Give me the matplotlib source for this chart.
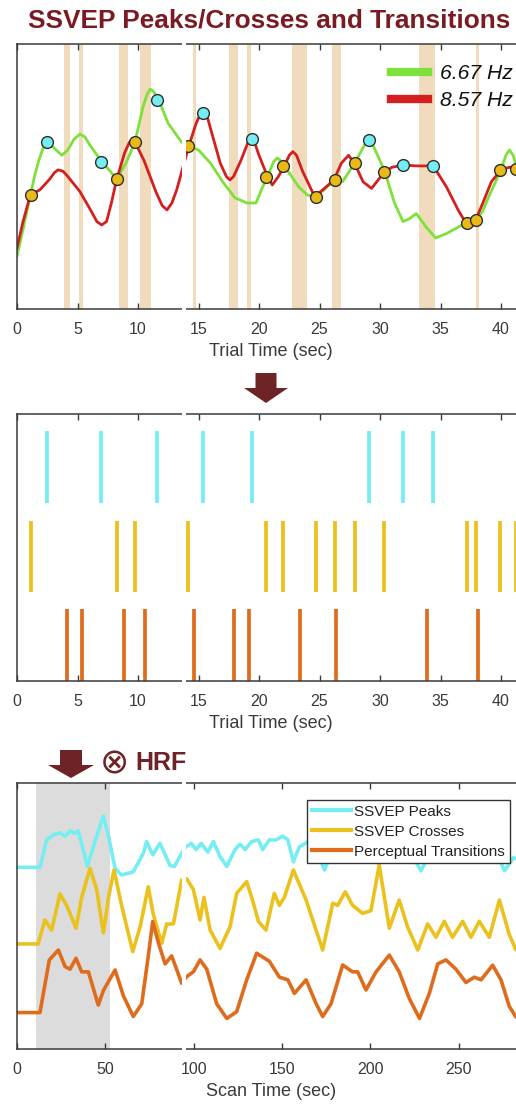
import matplotlib
matplotlib.use("Agg")
import matplotlib.pyplot as plt
from matplotlib.patches import Polygon, Rectangle
from matplotlib.lines import Line2D

plt.rcParams['font.family'] = ['Liberation Sans', 'DejaVu Sans']

# ---------------- data ----------------
# Top panel: SSVEP power traces (trial time, arbitrary units)
green_t = [0, 0.5, 1.1, 1.5, 1.8, 2.1, 2.4, 3.0, 3.7, 4.2, 4.7, 5.2, 5.6, 6.0, 7.0, 7.7, 8.24,
           9.0, 9.75, 10.4, 10.75, 11.0, 11.3, 11.7, 12.5, 13.6, 14.2, 15.0, 16.0, 17.0,
           18.0, 19.0, 19.75, 20.2, 20.7, 21.2, 21.5, 21.8, 22.1, 22.7, 23.3, 24.0, 24.6,
           25.4, 26.2, 26.9, 27.9, 28.5, 28.85, 29.1, 29.5, 29.8, 30.4, 31.2, 31.9, 32.4,
           33.0, 33.8, 34.6, 35.5, 36.3, 37.1, 37.9, 38.5, 39.0, 40.0, 40.4, 40.7, 41.0,
           41.2, 42.0]
green_v = [0.20, 0.30, 0.43, 0.51, 0.56, 0.60, 0.63, 0.61, 0.58, 0.60, 0.64, 0.66, 0.65,
           0.62, 0.556, 0.52, 0.49, 0.55, 0.63, 0.76, 0.81, 0.83, 0.82, 0.79, 0.70, 0.63,
           0.615, 0.60, 0.55, 0.48, 0.42, 0.40, 0.40, 0.45, 0.50, 0.555, 0.57, 0.56, 0.54,
           0.50, 0.46, 0.43, 0.424, 0.45, 0.487, 0.48, 0.55, 0.60, 0.63, 0.638, 0.61, 0.58,
           0.518, 0.40, 0.33, 0.34, 0.36, 0.31, 0.268, 0.285, 0.305, 0.325, 0.336, 0.37,
           0.425, 0.525, 0.58, 0.60, 0.58, 0.55, 0.48]
red_t = [0, 0.5, 1.1, 1.9, 2.7, 3.1, 3.4, 3.8, 4.2, 5.2, 6.0, 6.6, 7.0, 7.4, 7.8, 8.24, 8.9,
         9.3, 9.5, 9.75, 10.5, 11.5, 12.0, 12.4, 12.8, 13.2, 14.2, 14.8, 15.1, 15.4, 15.7,
         16.0, 16.8, 17.3, 17.6, 17.9, 18.5, 19.1, 19.4, 19.7, 20.0, 20.7, 21.1, 21.6,
         22.1, 22.5, 22.8, 23.1, 23.6, 24.6, 25.4, 26.2, 26.8, 27.4, 27.9, 28.6, 29.3,
         29.9, 30.4, 31.0, 31.9, 33.0, 34.4, 35.5, 36.5, 37.1, 37.9, 38.5, 39.2, 40.0,
         40.7, 41.2, 42.0]
red_v = [0.23, 0.33, 0.43, 0.45, 0.49, 0.515, 0.525, 0.52, 0.50, 0.443, 0.38, 0.33, 0.317,
         0.33, 0.40, 0.49, 0.59, 0.63, 0.638, 0.63, 0.56, 0.44, 0.39, 0.374, 0.40, 0.45,
         0.615, 0.70, 0.73, 0.74, 0.73, 0.68, 0.55, 0.50, 0.487, 0.50, 0.56, 0.63, 0.64,
         0.62, 0.58, 0.50, 0.468, 0.50, 0.54, 0.58, 0.594, 0.58, 0.52, 0.424, 0.455, 0.487,
         0.55, 0.58, 0.55, 0.48, 0.455, 0.49, 0.518, 0.535, 0.543, 0.54, 0.54, 0.46, 0.37,
         0.325, 0.336, 0.40, 0.48, 0.525, 0.535, 0.53, 0.52]

# SSVEP peaks (cyan markers) and crosses (yellow markers)
peak_times = [2.45, 6.94, 11.6, 15.4, 19.4, 29.1, 31.9, 34.4]
peak_vals = [0.63, 0.556, 0.79, 0.74, 0.64, 0.638, 0.543, 0.54]
cross_times = [1.13, 8.29, 9.78, 14.1, 20.6, 22.0, 24.7, 26.3, 27.9, 30.3, 37.2, 37.9, 39.9, 41.2]
cross_vals = [0.43, 0.49, 0.63, 0.615, 0.50, 0.54, 0.424, 0.487, 0.55, 0.518, 0.325, 0.336, 0.525, 0.53]

# Perceptual transitions
transition_times = [4.16, 5.34, 8.84, 10.58, 14.6, 17.9, 19.15, 23.4, 26.4, 33.9, 38.1]
band_start = [3.9, 5.15, 8.45, 10.17, 14.57, 17.55, 19.0, 22.7, 26.06, 33.25, 37.93]
band_end = [4.4, 5.43, 9.17, 11.05, 14.8, 18.3, 19.3, 24.0, 26.8, 34.57, 38.15]

# Bottom panel: HRF-convolved regressors (scan time)
pk_t = [0, 13, 16.8, 20.6, 24.3, 27.2, 30, 32.8, 34.7, 39.8, 45.1, 48.9, 51.8, 55.5, 59.2,
        65.8, 71.5, 73.4, 76.8, 80.9, 86.6, 89, 93.2, 95.6, 98.6, 101.4, 104.2, 108, 111.1,
        114.8, 118.7, 123.4, 126.2, 129.1, 132.8, 136.6, 139, 142.8, 146.5, 150.4, 153.3,
        156.4, 159.8, 165, 170, 174, 178, 185, 195, 200, 204, 208, 215, 222, 228.6, 234,
        242, 250, 258, 265, 271, 276, 281, 287]
pk_v = [0.683, 0.683, 0.786, 0.805, 0.813, 0.80, 0.82, 0.81, 0.82, 0.688, 0.80, 0.876, 0.80,
        0.679, 0.654, 0.666, 0.736, 0.78, 0.73, 0.773, 0.69, 0.686, 0.736, 0.76, 0.773,
        0.75, 0.773, 0.74, 0.78, 0.725, 0.686, 0.75, 0.77, 0.75, 0.78, 0.786, 0.75, 0.786,
        0.786, 0.80, 0.786, 0.704, 0.76, 0.78, 0.74, 0.673, 0.74, 0.78, 0.76, 0.74, 0.70,
        0.76, 0.78, 0.75, 0.67, 0.74, 0.78, 0.76, 0.79, 0.77, 0.74, 0.67, 0.72, 0.70]
cr_t = [0, 12, 15.8, 19.6, 24.3, 28.1, 33.4, 36.6, 41.3, 45.1, 48.9, 51.8, 54.9, 59.2, 65.5,
        69.7, 74.3, 77, 81.9, 84.7, 88.5, 93.2, 96, 99.8, 103.6, 105.8, 109.3, 114.9, 120.6,
        124.3, 130, 133.7, 136.6, 140.9, 145.6, 148.5, 151.3, 156.4, 163.6, 173, 178.7,
        181.5, 185.8, 189.9, 195.6, 200.3, 205, 210.7, 216.3, 221, 226.8, 232.4, 237.1,
        241.8, 246.5, 252.2, 256.9, 261.6, 267.3, 273, 278.6, 282.4, 287]
cr_v = [0.395, 0.395, 0.485, 0.447, 0.583, 0.54, 0.454, 0.57, 0.679, 0.60, 0.437, 0.57,
        0.673, 0.54, 0.366, 0.46, 0.61, 0.51, 0.397, 0.47, 0.47, 0.635, 0.64, 0.60, 0.485,
        0.57, 0.447, 0.378, 0.46, 0.585, 0.629, 0.55, 0.48, 0.447, 0.585, 0.54, 0.57,
        0.673, 0.56, 0.372, 0.548, 0.54, 0.591, 0.54, 0.51, 0.52, 0.692, 0.454, 0.56, 0.46,
        0.372, 0.47, 0.42, 0.48, 0.42, 0.48, 0.42, 0.48, 0.42, 0.56, 0.43, 0.372, 0.40]
tr_t = [0, 13, 18.3, 23.4, 27.2, 30, 33.4, 36.6, 40.4, 46, 48.9, 55.5, 60.2, 65.8, 70.6,
        74.3, 76.8, 80, 83.8, 87.5, 90.3, 93.2, 96, 99.8, 103.6, 107.4, 113, 118.7, 124.3,
        130, 135.6, 142.8, 148.5, 153.3, 157, 163.6, 169.3, 173, 177.7, 184.3, 189.9,
        192.8, 197.5, 203.2, 210.7, 216.3, 222, 227.8, 233.4, 238.1, 242.8, 248.4, 254.1,
        258.8, 262.6, 269.2, 273.9, 278.6, 282.4, 287]
tr_v = [0.137, 0.137, 0.335, 0.372, 0.31, 0.30, 0.341, 0.29, 0.29, 0.165, 0.22, 0.297,
        0.20, 0.122, 0.17, 0.35, 0.479, 0.40, 0.32, 0.35, 0.30, 0.247, 0.272, 0.29, 0.335,
        0.30, 0.17, 0.115, 0.14, 0.26, 0.36, 0.33, 0.27, 0.26, 0.209, 0.26, 0.17, 0.122,
        0.17, 0.316, 0.29, 0.29, 0.222, 0.29, 0.353, 0.29, 0.19, 0.115, 0.21, 0.32, 0.335,
        0.30, 0.25, 0.27, 0.26, 0.315, 0.26, 0.16, 0.12, 0.14]

hrf_window = (10.6, 52.7)
legend_top = ['6.67 Hz', '8.57 Hz']
legend_bottom = ['SSVEP Peaks', 'SSVEP Crosses', 'Perceptual Transitions']
trial_ticks = [0, 5, 10, 15, 20, 25, 30, 35, 40]
scan_ticks = [0, 50, 100, 150, 200, 250]

# ---------------- styling ----------------
C_GREEN = '#7EE03A'
C_RED = '#D41F1F'
C_CYAN = '#74EEF2'
C_YEL = '#EBC11E'
C_ORG = '#DE6C1C'
C_BAND = '#F0DCBC'
C_DARK = '#7A1A22'
C_ARROW = '#6E2326'
C_TXT = '#3A3A3A'
C_SPINE = '#3A3A3A'

W, H = 516, 1107
fig = plt.figure(figsize=(W / 100, H / 100), dpi=100)


def px_axes(left, top, right, bottom):
    return fig.add_axes([left / W, 1 - bottom / H, (right - left) / W, (bottom - top) / H])


def style(ax, ticks):
    for s in ax.spines.values():
        s.set_color(C_SPINE)
        s.set_linewidth(1.1)
    ax.set_xticks(ticks)
    ax.set_yticks([])
    ax.tick_params(axis='x', direction='in', top=True, bottom=True, length=4, width=1,
                   color=C_SPINE, labelcolor=C_TXT, labelsize=11.5, pad=9)


# top panel
ax1 = px_axes(17, 44, 17 + 42 * 12.1, 309)
ax1.set_xlim(0, 42)
ax1.set_ylim(0, 1)
for s, e in zip(band_start, band_end):
    ax1.axvspan(s, e, color=C_BAND, lw=0, zorder=0)
l1, = ax1.plot(green_t, green_v, color=C_GREEN, lw=2.0, zorder=2, solid_joinstyle='round')
l2, = ax1.plot(red_t, red_v, color=C_RED, lw=2.0, zorder=2, solid_joinstyle='round')
ax1.plot(peak_times, peak_vals, 'o', mfc=C_CYAN, mec='#2E2E2E', ms=8.5, mew=1.0, zorder=5)
ax1.plot(cross_times, cross_vals, 'o', mfc='#E9B918', mec='#2E2E2E', ms=8.5, mew=1.0, zorder=5)
style(ax1, trial_ticks)
ax1.set_xlabel('Trial Time (sec)', fontsize=13, color=C_TXT, labelpad=5)
leg1 = ax1.legend([Line2D([], [], color=C_GREEN, lw=6), Line2D([], [], color=C_RED, lw=6)],
                  legend_top, loc='upper left', bbox_to_anchor=(391 / W, 1 - 64 / H),
                  bbox_transform=fig.transFigure, frameon=False, borderpad=0,
                  borderaxespad=0, handlelength=1.75, handletextpad=0.55, labelspacing=0.4,
                  prop={'style': 'italic', 'size': 15.2})
for t in leg1.get_texts():
    t.set_color('#111111')

# middle panel
ax2 = px_axes(17, 414, 17 + 42 * 12.1, 681)
ax2.set_xlim(0, 42)
ax2.set_ylim(0, 3.7)
ax2.vlines(peak_times, 2.46, 3.46, color=C_CYAN, lw=2.7)
ax2.vlines(cross_times, 1.23, 2.22, color=C_YEL, lw=2.7)
ax2.vlines(transition_times, 0, 1.0, color=C_ORG, lw=2.7)
style(ax2, trial_ticks)
ax2.set_xlabel('Trial Time (sec)', fontsize=13, color=C_TXT, labelpad=5)

# bottom panel
ax3 = px_axes(17, 783, 17 + 287 * 1.767, 1049)
ax3.set_xlim(0, 287)
ax3.set_ylim(0, 1)
ax3.axvspan(*hrf_window, color='#DCDCDC', lw=0, zorder=0)
h1, = ax3.plot(pk_t, pk_v, color=C_CYAN, lw=2.6, solid_joinstyle='round')
h2, = ax3.plot(cr_t, cr_v, color=C_YEL, lw=2.6, solid_joinstyle='round')
h3, = ax3.plot(tr_t, tr_v, color=C_ORG, lw=2.6, solid_joinstyle='round')
style(ax3, scan_ticks)
ax3.set_xlabel('Scan Time (sec)', fontsize=13, color=C_TXT, labelpad=5)
leg3 = ax3.legend([h1, h2, h3], legend_bottom, loc='upper left',
                  bbox_to_anchor=(307 / W, 1 - 800 / H), bbox_transform=fig.transFigure,
                  fancybox=False, framealpha=1, edgecolor='#333333', fontsize=11,
                  borderpad=0.3, borderaxespad=0, handlelength=2.6, handletextpad=0.2,
                  labelspacing=0.4)
leg3.get_frame().set_linewidth(1.0)
for ln in leg3.get_lines():
    ln.set_linewidth(3)
for t in leg3.get_texts():
    t.set_color('#222222')

# overlay for annotations (pixel coordinates)
ov = fig.add_axes([0, 0, 1, 1], zorder=10)
ov.set_xlim(0, W)
ov.set_ylim(H, 0)
ov.axis('off')

fig.text(269.5 / W, 1 - 21 / H, 'SSVEP Peaks/Crosses and Transitions', ha='center', va='center',
         fontsize=18.9, fontweight='bold', color=C_DARK)


def down_arrow(cx, top, neck, tip, shaft_w, head_w):
    pts = [(cx - shaft_w / 2, top), (cx + shaft_w / 2, top), (cx + shaft_w / 2, neck),
           (cx + head_w / 2, neck), (cx, tip), (cx - head_w / 2, neck), (cx - shaft_w / 2, neck)]
    ov.add_patch(Polygon(pts, closed=True, color=C_ARROW, lw=0))


down_arrow(266, 373, 388, 403, 21, 44)
down_arrow(71, 750, 765, 778, 22, 46)
ov.text(114, 763, '\u2297', ha='center', va='center', fontsize=25, color=C_ARROW,
        family=['DejaVu Sans'])
ov.text(135, 763, 'HRF', ha='left', va='center', fontsize=18, fontweight='bold', color=C_ARROW)

# white break seen in each panel
for top, bot in [(41, 312), (411, 684), (780, 1052)]:
    ov.add_patch(Rectangle((182, top), 4, bot - top, color='white', lw=0))

fig.savefig('out.png', dpi=100)
